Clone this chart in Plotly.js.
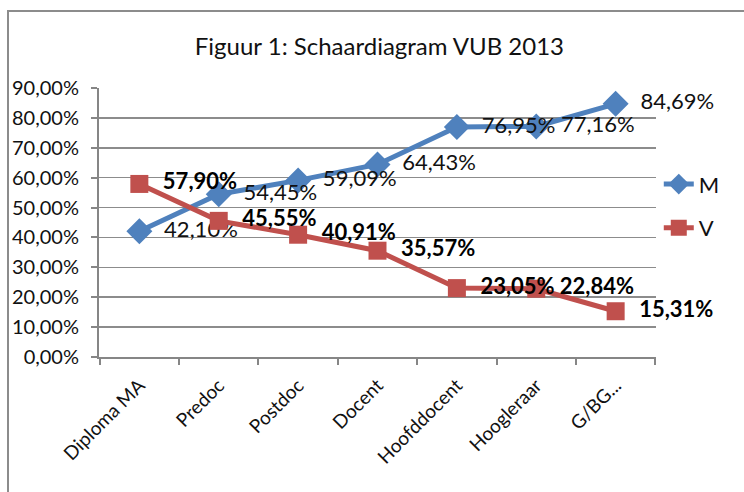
<!DOCTYPE html>
<html>
<head>
<meta charset="utf-8">
<script src="https://cdn.plot.ly/plotly-3.0.1.min.js"></script>
<style>
html,body{margin:0;padding:0;background:#fff;}
#wrap{position:relative;width:744px;height:492px;overflow:hidden;}
#chart{position:absolute;left:0;top:0;width:744px;height:492px;}
#frame{position:absolute;left:7px;top:10px;width:800px;height:600px;border-left:2px solid #8c8c8c;border-top:2px solid #8c8c8c;pointer-events:none;}
</style>
</head>
<body>
<div id="wrap"><div id="chart"></div><div id="frame"></div></div>
<script>
const categories = ["Diploma MA", "Predoc", "Postdoc", "Docent", "Hoofddocent", "Hoogleraar", "G/BG..."];
const valuesM = [0.4210, 0.5445, 0.5909, 0.6443, 0.7695, 0.7716, 0.8469];
const valuesV = [0.5790, 0.4555, 0.4091, 0.3557, 0.2305, 0.2284, 0.1531];
const tickVals = [0, 0.1, 0.2, 0.3, 0.4, 0.5, 0.6, 0.7, 0.8, 0.9];

const FONT = "Lato, 'Open Sans', sans-serif";

const traceM = {
  x: categories, y: valuesM, name: "M", type: "scatter", mode: "lines+markers+text",
  line: {color: "#4F81BD", width: 5},
  marker: {symbol: "diamond", size: 20, color: "#4F81BD"},
  texttemplate: "\u00a0\u00a0%{y:.2%}", textposition: "middle right",
  textfont: {family: FONT, size: 22, color: "#111"},
  legendgroup: "m", cliponaxis: false
};
const traceV = {
  x: categories, y: valuesV, name: "V", type: "scatter", mode: "lines+markers+text",
  line: {color: "#C0504D", width: 5},
  marker: {symbol: "square", size: 18, color: "#C0504D"},
  texttemplate: "\u00a0\u00a0<b>%{y:.2%}</b>", textposition: "middle right",
  textfont: {family: FONT, size: 22, color: "#000"},
  legendgroup: "v", cliponaxis: false
};

const layout = {
  width: 744, height: 492,
  margin: {l: 99, r: 88, t: 88, b: 135},
  paper_bgcolor: "#fff", plot_bgcolor: "#fff",
  separators: ",.",
  font: {family: FONT, color: "#111"},
  title: {text: "Figuur 1: Schaardiagram VUB 2013", x: 0.51, xanchor: "center", y: 0.905, yanchor: "middle",
          font: {family: FONT, size: 24, color: "#111"}},
  showlegend: true,
  legend: {x: 1.005, y: 0.72, xanchor: "left", yanchor: "top", font: {family: FONT, size: 22, color: "#111"},
           tracegroupgap: 12, bgcolor: "rgba(0,0,0,0)"},
  xaxis: {
    type: "category", tickangle: -45, tickson: "boundaries", ticks: "outside", ticklen: 6,
    tickcolor: "#868686", tickwidth: 2, showline: true, linecolor: "#868686", linewidth: 2,
    showgrid: false, tickfont: {family: FONT, size: 19, color: "#111"}, ticklabelstandoff: 8, fixedrange: true
  },
  yaxis: {
    range: [0, 0.9], tickvals: tickVals, tickformat: ".2%", ticks: "outside", ticklen: 6,
    tickcolor: "#868686", tickwidth: 2, showline: true, linecolor: "#868686", linewidth: 2,
    showgrid: true, gridcolor: "#8c8c8c", gridwidth: 1.5, zeroline: false,
    tickfont: {family: FONT, size: 20, color: "#111"}, ticklabelstandoff: 8, fixedrange: true
  }
};

Plotly.newPlot("chart", [traceM, traceV], layout, {displayModeBar: false, staticPlot: true});
</script>
</body>
</html>
